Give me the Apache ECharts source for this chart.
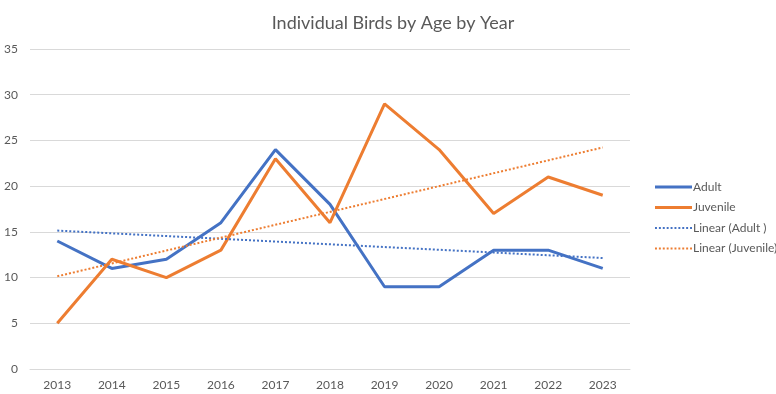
<!DOCTYPE html>
<html><head><meta charset="utf-8">
<script src="https://cdn.jsdelivr.net/npm/echarts@6/dist/echarts.min.js"></script>
<style>html,body{margin:0;padding:0;background:#fff}#c{width:776px;height:394px}</style>
</head><body><div id="c"></div>
<script>
const years = ['2013','2014','2015','2016','2017','2018','2019','2020','2021','2022','2023'];
const adult = [14, 11, 12, 16, 24, 18, 9, 9, 13, 13, 11];
const juvenile = [5, 12, 10, 13, 23, 16, 29, 24, 17, 21, 19];
// trend line endpoints (first and last year)
const trendAdult = [15.14, null, null, null, null, null, null, null, null, null, 12.14];
const trendJuvenile = [10.14, null, null, null, null, null, null, null, null, null, 24.23];

let dotPath = 'path://';
for (let i = 0; i < 10; i++) { const x = i * 4; dotPath += 'M' + x + ',0 L' + (x + 2) + ',0 L' + (x + 2) + ',2 L' + x + ',2 Z '; }
const solidPath = 'path://M0,0 L38,0 L38,3 L0,3 Z';

const chart = echarts.init(document.getElementById('c'), null, {renderer:'canvas'});
const font = 'Lato, "Open Sans", sans-serif';
chart.setOption({
  animation:false,
  title:{text:'Individual Birds by Age by Year', left:388, top:9, textAlign:'center',
    textStyle:{fontFamily:font, fontWeight:'normal', fontSize:18, color:'#595959'}},
  legend:{orient:'vertical', left:650, top:176, itemGap:8.5, itemWidth:37, itemHeight:14,
    textStyle:{fontFamily:font, fontSize:12, color:'#595959', padding:[0,0,0,-4]},
    data:[
      {name:'Adult', icon:solidPath, itemStyle:{color:'#4472c4'}},
      {name:'Juvenile', icon:solidPath, itemStyle:{color:'#ed7d31'}},
      {name:'Linear (Adult )', icon:dotPath, itemStyle:{color:'#4472c4'}},
      {name:'Linear (Juvenile)', icon:dotPath, itemStyle:{color:'#ed7d31'}}
    ]},
  grid:{left:30, right:146, top:49, bottom:25, containLabel:false},
  xAxis:{type:'category', data:years, boundaryGap:true,
    axisLine:{show:true, lineStyle:{color:'#d9d9d9'}}, axisTick:{show:false},
    axisLabel:{fontFamily:font, fontSize:12, color:'#595959', margin:10}},
  yAxis:{type:'value', min:0, max:35, interval:5,
    axisLine:{show:false}, axisTick:{show:false},
    splitLine:{lineStyle:{color:'#d9d9d9'}},
    axisLabel:{fontFamily:font, fontSize:12, color:'#595959', margin:12}},
  series:[
    {name:'Adult', type:'line', data:adult, symbol:'none', lineStyle:{color:'#4472c4', width:3}, itemStyle:{color:'#4472c4'}},
    {name:'Juvenile', type:'line', data:juvenile, symbol:'none', lineStyle:{color:'#ed7d31', width:3}, itemStyle:{color:'#ed7d31'}},
    {name:'Linear (Adult )', type:'line', data:trendAdult, connectNulls:true, symbol:'none',
      lineStyle:{color:'#4472c4', width:2, type:[2,2]}, itemStyle:{color:'#4472c4'}},
    {name:'Linear (Juvenile)', type:'line', data:trendJuvenile, connectNulls:true, symbol:'none',
      lineStyle:{color:'#ed7d31', width:2, type:[2,2]}, itemStyle:{color:'#ed7d31'}}
  ]
});
</script></body></html>
